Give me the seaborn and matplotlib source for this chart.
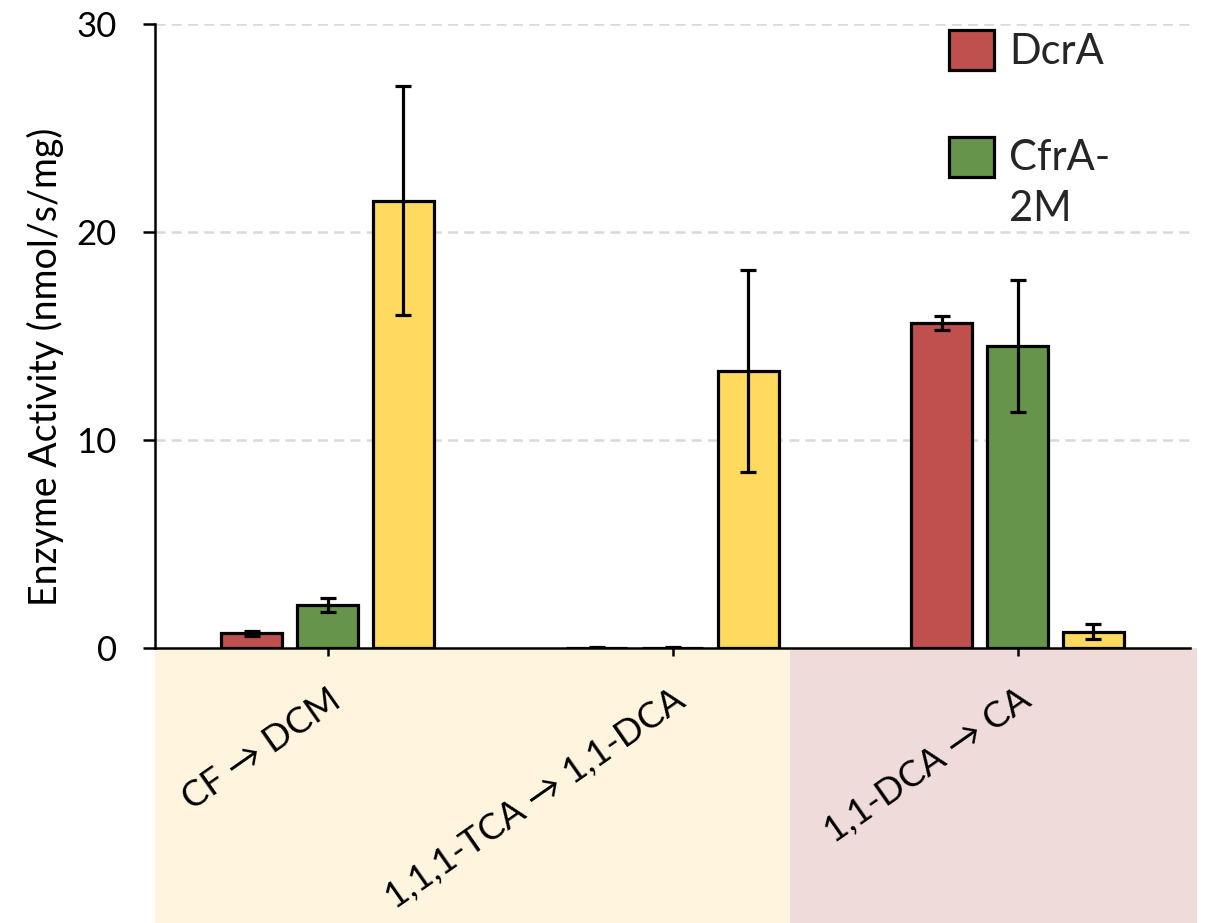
import numpy as np
import pandas as pd
import matplotlib
matplotlib.use("Agg")
import matplotlib.pyplot as plt
from matplotlib.patches import Rectangle, Patch
from matplotlib.legend_handler import HandlerPatch
import seaborn as sns

# Reactions (x categories) and enzymes (series)
reactions = ["CF → DCM", "1,1,1-TCA → 1,1-DCA", "1,1-DCA → CA"]
enzymes = ["DcrA", "CfrA-\n2M", "TmrA"]

# Mean activity (nmol/s/mg) per enzyme, in reaction order
dcra_mean = [0.72, 0.0, 15.63]
cfra_mean = [2.07, 0.0, 14.52]
tmra_mean = [21.5, 13.3, 0.77]

# Standard deviation per enzyme, in reaction order
dcra_sd = [0.12, 0.05, 0.33]
cfra_sd = [0.33, 0.05, 3.15]
tmra_sd = [5.5, 4.85, 0.36]

colors = ["#C0504D", "#66944A", "#FFDA5F"]
band_colors = ["#FFF5DF", "#F0DBDB"]

means = [dcra_mean, cfra_mean, tmra_mean]
sds = [dcra_sd, cfra_sd, tmra_sd]

df = pd.DataFrame({
    "reaction": np.repeat([reactions], 3, axis=0).ravel(),
    "enzyme": np.repeat(enzymes, len(reactions)),
    "activity": np.concatenate(means),
    "sd": np.concatenate(sds),
})

sns.set_theme(style="white")
plt.rcParams["font.family"] = ["Lato", "DejaVu Sans"]

fig = plt.figure(figsize=(12.07, 9.23), dpi=100)
ax = fig.add_axes([155 / 1207, 1 - 648 / 923, 1035 / 1207, 624 / 923])

sns.barplot(
    data=df, x="reaction", y="activity", hue="enzyme",
    order=reactions, hue_order=enzymes, palette=colors, saturation=1,
    errorbar=None, width=0.66, gap=0.2, dodge=True,
    edgecolor="black", linewidth=2.3, legend=False, ax=ax, zorder=3,
)

# Error bars centred on each bar
for container, sd in zip(ax.containers, sds):
    xs = [p.get_x() + p.get_width() / 2 for p in container.patches]
    ys = [p.get_height() for p in container.patches]
    ax.errorbar(xs, ys, yerr=sd, fmt="none", ecolor="black",
                elinewidth=2.3, capsize=5.5, capthick=2.3, zorder=4)

ax.set_xlim(-0.5, 2.5)
ax.set_ylim(0, 30)
ax.set_yticks([0, 10, 20, 30])

# Dashed horizontal grid
for yv in [10, 20, 30]:
    ax.axhline(yv, color="#D9D9D9", lw=1.8, ls=(0, (4, 2.5)), zorder=1)

for s in ["top", "right"]:
    ax.spines[s].set_visible(False)
for s in ["left", "bottom"]:
    ax.spines[s].set_color("black")
    ax.spines[s].set_linewidth(1.8)
    ax.spines[s].set_zorder(5)

ax.tick_params(axis="y", direction="out", length=8.6, width=1.8,
               pad=19, labelsize=25, left=True, colors="black")
ax.tick_params(axis="x", direction="out", length=6, width=1.8,
               pad=19, labelsize=26, bottom=True, colors="black")
for lbl in ax.get_xticklabels():
    lbl.set_rotation(35)
    lbl.set_ha("right")
    lbl.set_va("top")
    lbl.set_rotation_mode("anchor")

ax.set_xlabel("")
ax.set_ylabel("Enzyme Activity (nmol/s/mg)", fontsize=27, color="black")
ax.yaxis.set_label_coords(-0.088, 0.45)

# Shaded bands beneath the axis grouping the reactions
ax.add_patch(Rectangle((0, -0.4407), 0.6135, 0.4407, transform=ax.transAxes,
                       facecolor=band_colors[0], edgecolor="none",
                       clip_on=False, zorder=0))
ax.add_patch(Rectangle((0.6135, -0.4407), 0.3933, 0.4407, transform=ax.transAxes,
                       facecolor=band_colors[1], edgecolor="none",
                       clip_on=False, zorder=0))


def top_aligned_square(legend, orig_handle, xdescent, ydescent, width, height, fontsize):
    # Align the swatch with the first line of a two-line label
    shift = getattr(orig_handle, "_line_shift", 0.0)
    return Rectangle((-xdescent, -ydescent + shift), width, height)


handles = [Patch(facecolor=c, edgecolor="black", linewidth=2.3) for c in colors[:2]]
handles[1]._line_shift = 19.5
leg = ax.legend(handles, enzymes[:2], loc="upper left",
                bbox_to_anchor=(949 / 1207, 1 - 30 / 923), bbox_transform=fig.transFigure,
                frameon=False, fontsize=30, handlelength=1.08, handleheight=1.1,
                handletextpad=0.36, labelspacing=1.62, borderpad=0, borderaxespad=0,
                handler_map={Patch: HandlerPatch(patch_func=top_aligned_square)})
for t in leg.get_texts():
    t.set_linespacing(1.42)

fig.savefig("out.png", dpi=100)
